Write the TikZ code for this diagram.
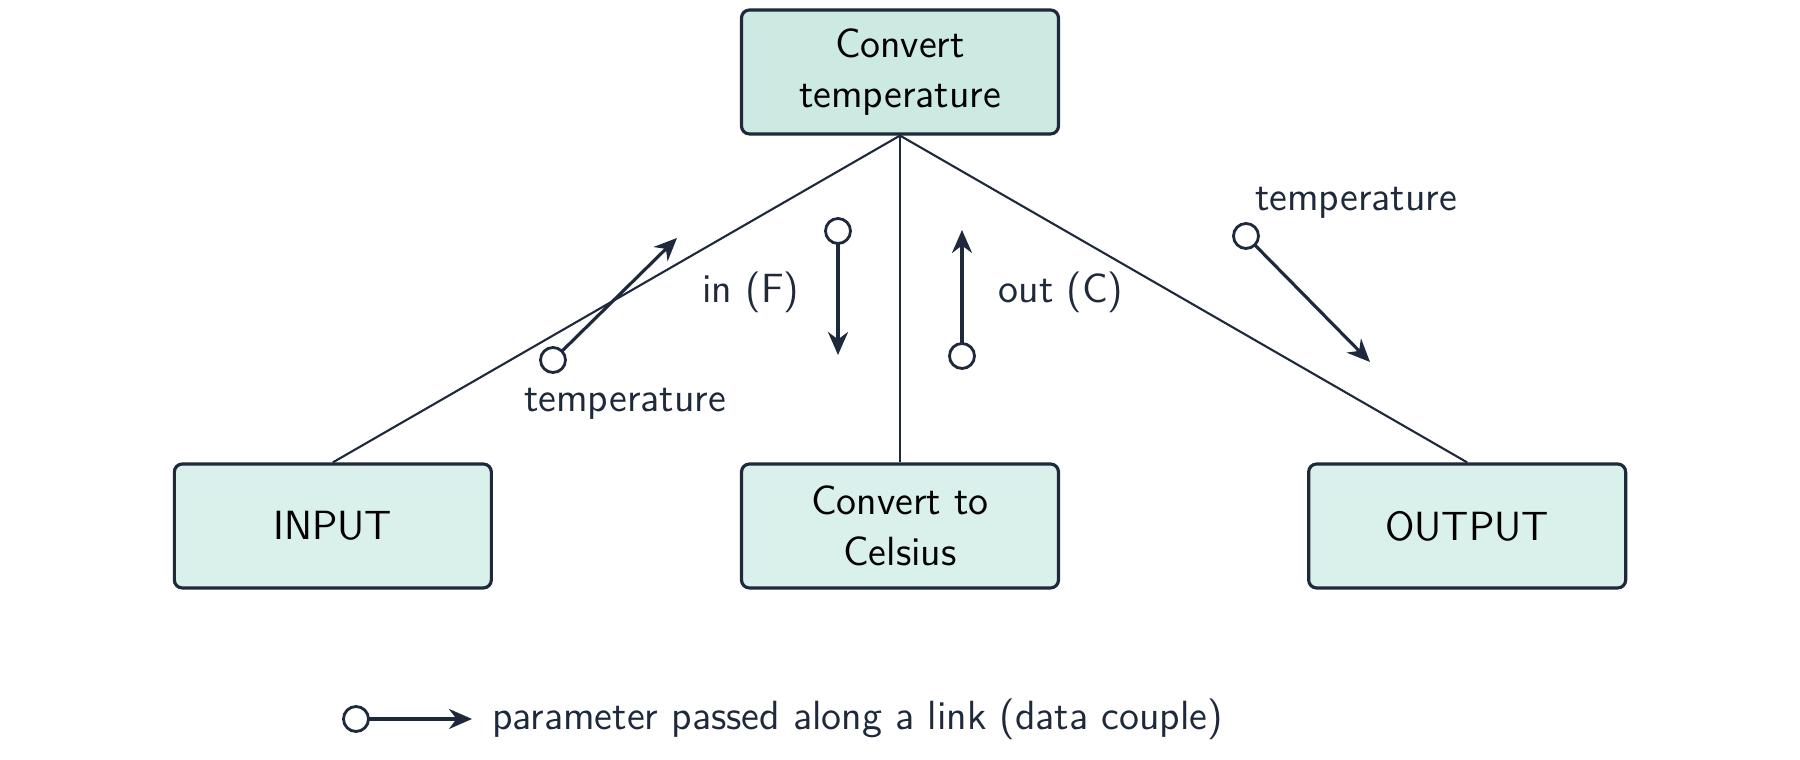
\documentclass[tikz,border=0pt]{standalone}
\usepackage{fontspec}
\usetikzlibrary{arrows.meta,positioning}
\definecolor{ink}{HTML}{1E293B}
\definecolor{topfill}{HTML}{CCEAE2}
\definecolor{boxfill}{HTML}{DAF0EA}
\begin{document}
\begin{tikzpicture}[thick, >={Stealth[length=2.3mm,width=2mm]}, font=\sffamily\fontsize{11.6}{14.4}\selectfont]
        \tikzstyle{module} = [rectangle, draw=ink, line width=0.9pt, fill=boxfill, text=black, align=center,
                            rounded corners=0.8mm, minimum width=3.17cm, minimum height=1.24cm]
        \tikzstyle{link} = [draw=ink, line width=0.6pt]
        \tikzstyle{couple} = [circle, draw=ink, line width=0.8pt, fill=white, inner sep=0pt, minimum size=2.5mm]
        \tikzstyle{flow} = [->, draw=ink, line width=0.9pt, shorten <=-0.4pt]
        \tikzstyle{lbl} = [text=ink]
        \useasboundingbox (0,0) rectangle (18,7.6);

        % Modules
        \node[module, fill=topfill] (main) at (9,6.88) {Convert\\temperature};
        \node[module] (convert) at (9,2.34) {Convert to\\Celsius};
        \node[module, left=2.47cm of convert] (input) {INPUT};
        \node[module, right=2.47cm of convert] (output) {OUTPUT};

        % Liens
        \draw[link] (main.south) -- (input.north);
        \draw[link] (main.south) -- (convert.north);
        \draw[link] (main.south) -- (output.north);

        % Couples de donnees
        \node[couple] (c_in) at (5.53,4.00) {};
        \coordinate (c_in_end) at (6.77,5.22);
        \node[lbl] (c_in_lbl) at (6.25,3.56) {temperature};
        \node[couple] (c_f) at (8.38,5.29) {};
        \coordinate (c_f_end) at (8.38,4.05);
        \node[lbl] (c_f_lbl) at (7.51,4.68) {in (F)};
        \node[couple] (c_c) at (9.62,4.04) {};
        \coordinate (c_c_end) at (9.62,5.30);
        \node[lbl] (c_c_lbl) at (10.61,4.68) {out (C)};
        \node[couple] (c_out) at (12.46,5.24) {};
        \coordinate (c_out_end) at (13.70,3.98);
        \node[lbl] (c_out_lbl) at (13.56,5.57) {temperature};

        \draw[flow] (c_in) -- (c_in_end);
        \draw[flow] (c_f) -- (c_f_end);
        \draw[flow] (c_c) -- (c_c_end);
        \draw[flow] (c_out) -- (c_out_end);

        % Legende
        \node[couple] (key) at (3.56,0.41) {};
        \coordinate (key_end) at (4.72,0.41);
        \node[lbl, anchor=west] (key_lbl) at (4.79,0.41) {parameter passed along a link (data couple)};
        \draw[flow] (key) -- (key_end);
    \end{tikzpicture}
\end{document}
